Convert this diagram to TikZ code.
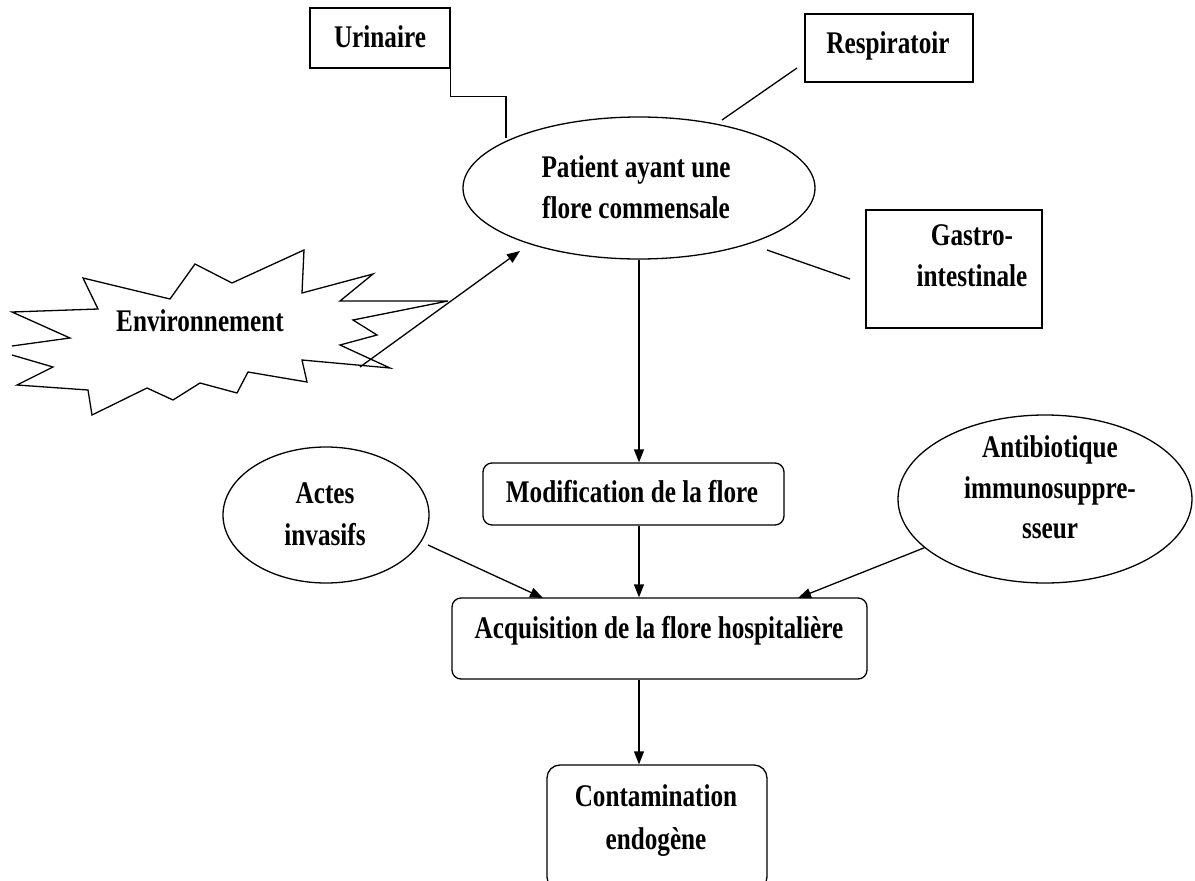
\documentclass[tikz,border=0pt]{standalone}
\usepackage{fontspec}
\setmainfont{Liberation Serif}[FakeStretch=0.8]
\usetikzlibrary{shapes.geometric,arrows.meta,calc}
\begin{document}
\begin{tikzpicture}[x=1pt,y=-1pt,
  lw/.style={line width=1.3pt},
  shp/.style={draw, lw, fill=white, inner sep=0pt},
  rbox/.style={shp, rectangle},
  rrbox/.style={shp, rectangle, rounded corners=9pt},
  ell/.style={shp, ellipse},
  txt/.style={font=\fontsize{31.5}{41}\selectfont\bfseries, anchor=base, inner sep=0pt},
  link/.style={draw, lw},
  arr/.style={link, -{Triangle[length=13pt,width=10pt]}},
]
\useasboundingbox (0,0) rectangle (1195,881);

% starburst
\draw[lw, fill=white] (12,346) -- (70,338) -- (12,312) -- (98,309) -- (83,278) -- (170,299)
  -- (195,264) -- (232,283) -- (304,250) -- (302,293) -- (373,274) -- (340,301)
  -- (448,301) -- (353,320) -- (377,335) -- (340,345) -- (390,368) -- (302,360)
  -- (307,382) -- (248,372) -- (237,393) -- (200,383) -- (173,400) -- (147,388)
  -- (92,415) -- (88,390) -- (17,385) -- (53,367) -- (12,355);
\node[txt] (env) at (200,331) {Environnement};

% shapes
\node[rbox, minimum width=140pt, minimum height=60pt] (uri) at (380,38) {};
\node[rbox, minimum width=168pt, minimum height=68pt] (res) at (889,48) {};
\node[ell, minimum width=352pt, minimum height=142pt] (pat) at (639,188) {};
\node[rbox, minimum width=176pt, minimum height=118pt] (gas) at (954,269) {};
\node[rrbox, minimum width=301pt, minimum height=62pt] (mod) at (633.5,494) {};
\node[rrbox, minimum width=415pt, minimum height=81pt] (acq) at (659.5,638.5) {};
\node[rrbox, rounded corners=13pt, minimum width=220pt, minimum height=125pt] (con) at (657,827.5) {};
\node[ell, minimum width=206pt, minimum height=136pt] (act) at (326,515) {};
\node[ell, minimum width=294pt, minimum height=168pt] (anti) at (1045,499) {};

% texts
\node[txt] (turi) at (380,47) {Urinaire};
\node[txt] (tres) at (888,53) {Respiratoir};
\node[txt] (tpat1) at (636,177) {Patient ayant une};
\node[txt] (tpat2) at (636,218) {flore commensale};
\node[txt] (tgas1) at (972,245) {Gastro-};
\node[txt] (tgas2) at (972,286) {intestinale};
\node[txt] (tmod) at (632,502) {Modification de la flore};
\node[txt] (tact1) at (325,503) {Actes};
\node[txt] (tact2) at (325,545) {invasifs};
\node[txt] (tanti1) at (1050,457) {Antibiotique};
\node[txt] (tanti2) at (1050,498) {immunosuppre-};
\node[txt] (tanti3) at (1050,538) {sseur};
\node[txt] (tacq) at (659,638) {Acquisition de la flore hospitalière};
\node[txt] (tcon1) at (656,806) {Contamination};
\node[txt] (tcon2) at (656,849) {endogène};

% free connector ends
\coordinate (u1) at (506,138);
\coordinate (e1) at (360,367);
\coordinate (e2) at (520,251);
\coordinate (r1) at (797,68);
\coordinate (r2) at (722,120);
\coordinate (g1) at (767,250);
\coordinate (g2) at (850,279);
\coordinate (a1) at (428,545);
\coordinate (a3) at (543,598);
\coordinate (a2) at (798,598);

% connectors
\draw[link] (uri.south east) -- ++(0,28) -| (u1);
\draw[link] (r1) -- (r2);
\draw[link] (g1) -- (g2);
\draw[arr] (e1) -- (e2);
\draw[arr] (pat.south) -- (pat.south |- mod.north);
\draw[arr] (pat.south |- mod.south) -- (pat.south |- acq.north);
\draw[arr] (pat.south |- acq.south) -- (pat.south |- con.north);
\draw[arr] (a1) -- (a3);
\draw[arr] (anti.202) -- (a2);
\end{tikzpicture}
\end{document}
